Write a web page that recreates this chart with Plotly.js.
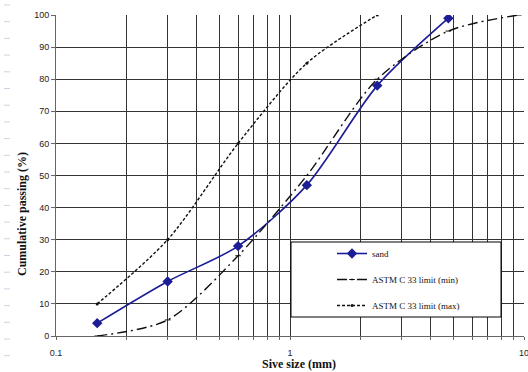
<!DOCTYPE html>
<html><head><meta charset="utf-8">
<script src="https://cdn.plot.ly/plotly-3.0.1.min.js"></script>
<style>html,body{margin:0;padding:0;background:#fff}#c{width:528px;height:372px}</style>
</head><body><div id="c"></div>
<script>
var sieveSand = [0.15, 0.3, 0.6, 1.18, 2.36, 4.75];
var passSand = [4, 17, 28, 47, 78, 99];
var sieveMin = [0.15, 0.3, 0.6, 1.18, 2.36, 4.75, 9.5];
var passMin = [0, 5, 25, 50, 80, 95, 100];
var sieveMax = [0.15, 0.3, 0.6, 1.18, 2.36];
var passMax = [10, 30, 60, 85, 100];
var xTickVals = [0.1,0.2,0.3,0.4,0.5,0.6,0.7,0.8,0.9,1,2,3,4,5,6,7,8,9,10];
var xTickText = ['0.1','','','','','','','','','1','','','','','','','','','10'];
var seriesNames = ['sand', 'ASTM C 33 limit (min)', 'ASTM C 33 limit (max)'];

var L = 56, R = 524, T = 15, B = 336;
function px(x){return (x-L)/(R-L);}
function py(y){return (B-y)/(B-T);}

var traces = [
  {x: sieveSand, y: passSand, name: seriesNames[0], mode: 'lines+markers', legendgroup:'a',
   line: {color: '#1c1c96', width: 1.6, shape: 'spline', smoothing: 0.8},
   marker: {symbol: 'diamond', size: 8, color: '#1c1c96'}},
  {x: sieveMin, y: passMin, name: seriesNames[1], mode: 'lines+markers', legendgroup:'b',
   line: {color: '#111', width: 1.4, dash: '10px,4px,2px,4px', shape: 'spline', smoothing: 0.8},
   marker: {symbol: 'line-ew', size: 4, color: '#111', line:{color:'#111', width:1}}},
  {x: sieveMax, y: passMax, name: seriesNames[2], mode: 'lines+markers', legendgroup:'c',
   line: {color: '#111', width: 1.4, dash: '3px,2px', shape: 'spline', smoothing: 0.8},
   marker: {symbol: 'circle', size: 3, color: '#111'}}
];

var shapes = [{type:'rect', xref:'paper', yref:'paper', x0:px(291), x1:px(501), y0:py(317), y1:py(242),
  line:{color:'#000', width:1}, fillcolor:'#fff', layer:'above'}];
for (var i = 0; i < 22; i++) {
  var yy = 5 + i*16.7;
  shapes.push({type:'line', xref:'paper', yref:'paper', x0:px(4), x1:px(10), y0:py(yy), y1:py(yy),
    line:{color:'#c9d5e3', width:1}});
}

var layout = {
  width: 528, height: 372,
  margin: {l: L, r: 528-R, t: T, b: 372-B},
  paper_bgcolor: '#fff', plot_bgcolor: '#fff',
  showlegend: true,
  legend: {x: px(332), y: py(239), xanchor: 'left', yanchor: 'top', bgcolor: 'rgba(0,0,0,0)',
    borderwidth: 0, font: {family: 'Liberation Serif', size: 9, color: '#111'},
    tracegroupgap: 7, traceorder: 'grouped', itemwidth: 30},
  xaxis: {type: 'log', range: [-1.00001, 1.00001], tickvals: xTickVals, ticktext: xTickText,
    showgrid: true, gridcolor: '#333', gridwidth: 1, zeroline: false,
    showline: true, linecolor: '#666', linewidth: 1, ticks: 'outside', ticklen: 3, tickcolor: '#666',
    ticklabelstandoff: 5, ticklabeloverflow: 'allow',
    tickfont: {family: 'Liberation Sans', size: 9, color: '#222'}},
  yaxis: {range: [0, 100], dtick: 10, tick0: 0, showgrid: true, gridcolor: '#333', gridwidth: 1,
    zeroline: false, showline: true, linecolor: '#666', linewidth: 1, ticks: 'outside', ticklen: 4, tickcolor:'#666',
    tickfont: {family: 'Liberation Sans', size: 9, color: '#222'}},
  shapes: shapes,
  annotations: [
    {text: 'Cumulative passing (%)', xref: 'paper', yref: 'paper', x: px(22), y: py(214),
     xanchor: 'center', yanchor: 'middle',
     showarrow: false, textangle: -90, font: {family: 'Liberation Serif', size: 12, color: '#111', weight: 'bold'}},
    {text: 'Sive size (mm)', xref: 'paper', yref: 'paper', x: px(299), y: py(364),
     xanchor: 'center', yanchor: 'middle',
     showarrow: false, font: {family: 'Liberation Serif', size: 12, color: '#111', weight: 'bold'}}
  ]
};
Plotly.newPlot('c', traces, layout, {displayModeBar: false, staticPlot: true});
</script></body></html>
